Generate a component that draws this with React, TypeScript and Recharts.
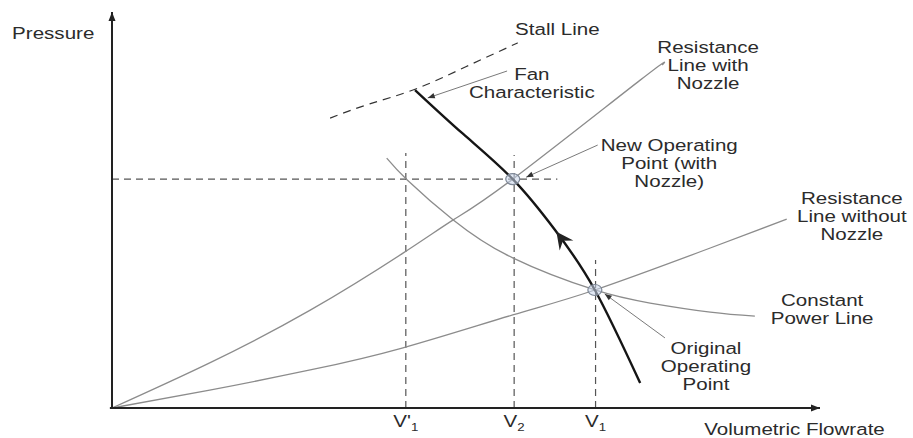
import { ComposedChart, Line, Scatter, XAxis, YAxis } from "recharts";

const W = 913;
const H = 438;
// pixel spots where (0,0) and (10,10) sit, so the hidden axes line up with the drawn ones
const ORIGIN = { x: 112, y: 408 };
const TIP = { x: 820, y: 12 };
const KX = (TIP.x - ORIGIN.x) / 10;
const KY = (ORIGIN.y - TIP.y) / 10;
const X_DOMAIN = [-ORIGIN.x / KX, (W - ORIGIN.x) / KX];
const Y_DOMAIN = [-(H - ORIGIN.y) / KY, ORIGIN.y / KY];

type Pt = { q: number; p: number };
const pts = (a: number[][]): Pt[] => a.map(([q, p]) => ({ q, p }));

// q = volumetric flowrate, p = pressure (0..10 up to the arrow tips)
const AXIS_Y = pts([[0, 0], [0, 10]]);
const AXIS_X = pts([[-0.03, 0], [10, 0]]);

const FAN = pts([[4.28, 8.03], [4.96, 6.92], [5.66, 5.78], [6.26, 4.49], [6.82, 2.98], [7.46, 0.63]]);
const STALL = pts([[3.08, 7.32], [3.64, 7.68], [4.28, 8.05], [4.99, 8.61], [5.73, 9.22]]);
const RES_NOZZLE = pts([
  [0, 0], [1.38, 1.14], [2.8, 2.47], [4.11, 3.91], [4.82, 4.75], [5.66, 5.78], [7.46, 8.28], [7.77, 8.66],
]);
const RES_OPEN = pts([
  [0, 0], [1.38, 0.45], [2.8, 0.96], [4.11, 1.52], [5.66, 2.35], [6.82, 2.98], [8.45, 4.04], [9.53, 4.77],
]);
const CONST_POWER = pts([
  [3.88, 6.31], [4.17, 5.76], [4.82, 4.75], [5.66, 3.79], [6.82, 2.98], [7.6, 2.65], [8.45, 2.42], [9.08, 2.32],
]);

const OPERATING = pts([[5.66, 5.78], [6.82, 2.98]]);

const V_TICKS = [
  { q: 4.15, top: 6.44, name: "V'", sub: "1" },
  { q: 5.68, top: 6.39, name: "V", sub: "2" },
  { q: 6.83, top: 3.74, name: "V", sub: "1" },
];
const H_DASH = pts([[0, 5.78], [6.29, 5.78]]);

const LEADERS = [
  pts([[5.58, 8.51], [4.46, 7.83]]),
  pts([[6.86, 6.64], [5.85, 5.83]]),
  pts([[7.81, 1.77], [6.96, 2.88]]),
];

const LABELS = [
  { q: -0.83, p: 9.47, lines: ["Pressure"] },
  { q: 6.29, p: 9.57, lines: ["Stall Line"] },
  { q: 5.93, p: 8.43, lines: ["Fan", "Characteristic"] },
  { q: 8.42, p: 9.12, lines: ["Resistance", "Line with", "Nozzle"] },
  { q: 7.87, p: 6.64, lines: ["New Operating", "Point (with", "Nozzle)"] },
  { q: 10.45, p: 5.3, lines: ["Resistance", "Line without", "Nozzle"] },
  { q: 10.03, p: 2.73, lines: ["Constant", "Power Line"] },
  { q: 8.39, p: 1.52, lines: ["Original", "Operating", "Point"] },
  { q: 9.64, p: -0.53, lines: ["Volumetric Flowrate"] },
];

const FONT = "Liberation Sans, Arial, sans-serif";
const TEXT = "#2b2b2b";

const angleOf = (a: Pt, b: Pt) =>
  (Math.atan2(-(b.p - a.p) * KY, (b.q - a.q) * KX) * 180) / Math.PI;

const arrows = [
  ...[AXIS_Y, AXIS_X].map((s) => ({ ...s[1], angle: angleOf(s[0], s[1]), kind: "axis" })),
  ...LEADERS.map((s) => ({ ...s[1], angle: angleOf(s[0], s[1]), kind: "leader" })),
  { ...FAN[3], angle: angleOf(FAN[4], FAN[2]), kind: "fan" },
];

function ArrowShape(props: any) {
  const { cx, cy, payload } = props;
  let d = "M0,0 L-9,-3.5 L-9,3.5 Z";
  let fill = "#222";
  if (payload.kind === "leader") {
    d = "M0,0 L-7,-2.8 L-7,2.8 Z";
    fill = "#333";
  }
  if (payload.kind === "fan") d = "M-2,0 L-19,-8.5 L-13,0 L-19,8.5 Z";
  return <path d={d} fill={fill} transform={`translate(${cx},${cy}) rotate(${payload.angle})`} />;
}

function OpShape(props: any) {
  const { cx, cy } = props;
  return <ellipse cx={cx} cy={cy} rx={7} ry={5.5} fill="rgba(200,214,235,0.55)" stroke="#7d8796" strokeWidth={1.2} />;
}

function LabelShape(props: any) {
  const { cx, cy, payload } = props;
  return (
    <g transform={`translate(${cx},${cy}) scale(1.21,1)`}>
      <text textAnchor="middle" fontFamily={FONT} fontSize={17} fill={TEXT}>
        {payload.lines.map((t: string, i: number) => (
          <tspan key={i} x={0} y={i * 18 + 6}>
            {t}
          </tspan>
        ))}
      </text>
    </g>
  );
}

function TickShape(props: any) {
  const { cx, cy, payload } = props;
  return (
    <g transform={`translate(${cx},${cy}) scale(1.21,1)`}>
      <text textAnchor="middle" fontFamily={FONT} fontSize={17} fill={TEXT} y={6}>
        {payload.name}
        <tspan fontSize={11} dy={4}>
          {payload.sub}
        </tspan>
      </text>
    </g>
  );
}

const plain = { dot: false, activeDot: false, isAnimationActive: false, type: "natural" as const };

export default function App() {
  const tickLabels = V_TICKS.map((v) => ({ q: v.q, p: -0.33, name: v.name, sub: v.sub }));
  return (
    <div style={{ position: "absolute", left: 0, top: 0, background: "#fff" }}>
      <ComposedChart width={W} height={H} margin={{ top: 0, right: 0, bottom: 0, left: 0 }}>
        <XAxis type="number" dataKey="q" domain={X_DOMAIN} allowDataOverflow hide />
        <YAxis type="number" dataKey="p" domain={Y_DOMAIN} allowDataOverflow hide />

        <Line data={H_DASH} dataKey="p" stroke="#555" strokeWidth={1.2} strokeDasharray="7 5" {...plain} type="linear" />
        {V_TICKS.map((v, i) => (
          <Line
            key={i}
            data={pts([[v.q, 0], [v.q, v.top]])}
            dataKey="p"
            stroke="#555"
            strokeWidth={1.2}
            strokeDasharray="7 5"
            {...plain}
            type="linear"
          />
        ))}

        <Line data={STALL} dataKey="p" stroke="#333" strokeWidth={1.2} strokeDasharray="8 6" {...plain} />
        <Line data={RES_NOZZLE} dataKey="p" stroke="#8c8c8c" strokeWidth={1.3} {...plain} />
        <Line data={RES_OPEN} dataKey="p" stroke="#8c8c8c" strokeWidth={1.3} {...plain} />
        <Line data={CONST_POWER} dataKey="p" stroke="#8c8c8c" strokeWidth={1.3} {...plain} />
        {LEADERS.map((s, i) => (
          <Line key={i} data={s} dataKey="p" stroke="#7a7a7a" strokeWidth={1} {...plain} type="linear" />
        ))}
        <Line data={FAN} dataKey="p" stroke="#151515" strokeWidth={2.4} {...plain} />

        <Line data={AXIS_Y} dataKey="p" stroke="#222" strokeWidth={2} {...plain} type="linear" />
        <Line data={AXIS_X} dataKey="p" stroke="#222" strokeWidth={2} {...plain} type="linear" />

        <Scatter data={OPERATING} shape={OpShape} isAnimationActive={false} />
        <Scatter data={arrows} shape={ArrowShape} isAnimationActive={false} />
        <Scatter data={LABELS} shape={LabelShape} isAnimationActive={false} />
        <Scatter data={tickLabels} shape={TickShape} isAnimationActive={false} />
      </ComposedChart>
    </div>
  );
}
